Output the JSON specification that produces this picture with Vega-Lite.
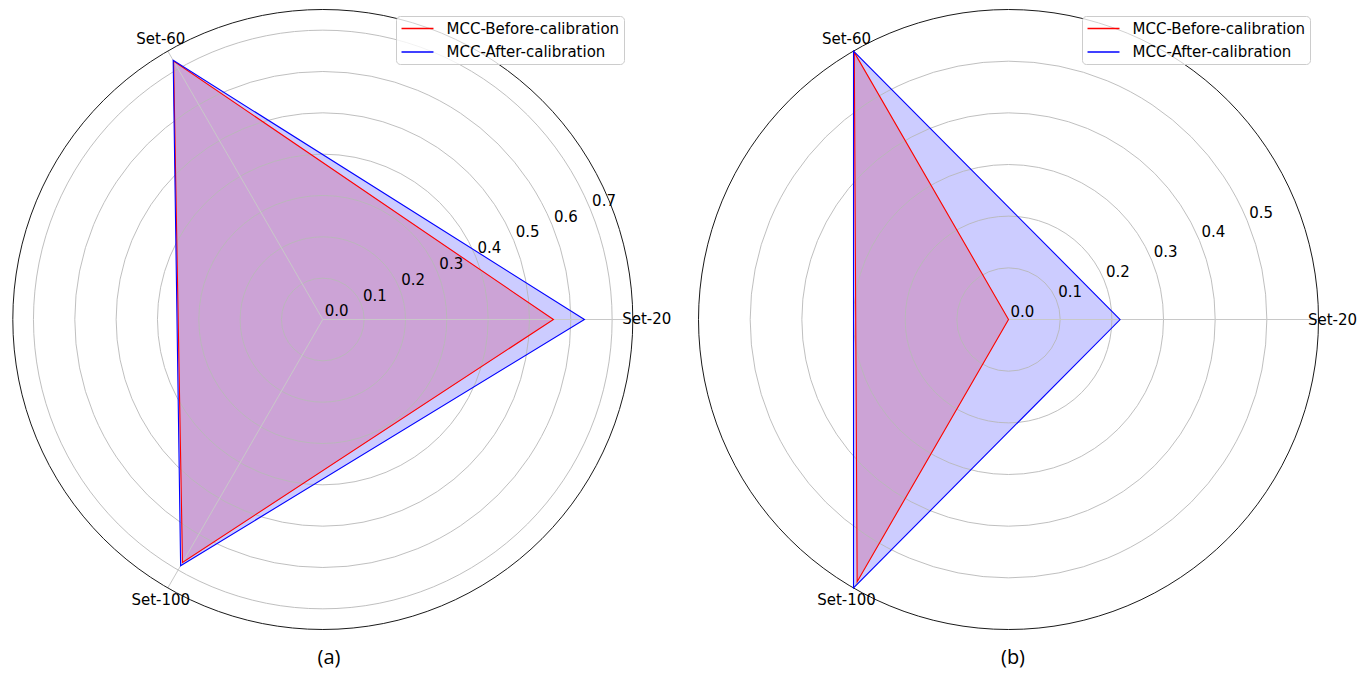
{
  "$schema": "https://vega.github.io/schema/vega-lite/v6.json",
  "padding": {"left": 0, "top": 0, "right": 0, "bottom": 8},
  "spacing": 0,
  "background": "white",
  "config": {
    "view": {"stroke": null},
    "font": "DejaVu Sans",
    "title": {"font": "Open Sans", "fontSize": 20, "fontWeight": "normal", "color": "black"},
    "legend": {
      "orient": "none",
      "title": null,
      "symbolType": "M-2.13,0H2.13",
      "symbolSize": 225,
      "symbolStrokeWidth": 1.3,
      "symbolOffset": 9,
      "labelFont": "DejaVu Sans",
      "labelFontSize": 15,
      "labelColor": "black",
      "labelLimit": 400,
      "labelOffset": 20.5,
      "padding": 4,
      "rowPadding": 6.5,
      "strokeColor": "#cccccc",
      "fillColor": "rgba(255,255,255,0.8)",
      "cornerRadius": 4
    }
  },
  "datasets": {
    "radar": [
      {"panel": "a", "series": "MCC-Before-calibration", "axis": "Set-20", "k": 0, "value": 0.558},
      {"panel": "a", "series": "MCC-Before-calibration", "axis": "Set-60", "k": 1, "value": 0.722},
      {"panel": "a", "series": "MCC-Before-calibration", "axis": "Set-100", "k": 2, "value": 0.679},
      {"panel": "a", "series": "MCC-After-calibration", "axis": "Set-20", "k": 0, "value": 0.633},
      {"panel": "a", "series": "MCC-After-calibration", "axis": "Set-60", "k": 1, "value": 0.724},
      {"panel": "a", "series": "MCC-After-calibration", "axis": "Set-100", "k": 2, "value": 0.688},
      {"panel": "b", "series": "MCC-Before-calibration", "axis": "Set-20", "k": 0, "value": 0.0},
      {"panel": "b", "series": "MCC-Before-calibration", "axis": "Set-60", "k": 1, "value": 0.597},
      {"panel": "b", "series": "MCC-Before-calibration", "axis": "Set-100", "k": 2, "value": 0.586},
      {"panel": "b", "series": "MCC-After-calibration", "axis": "Set-20", "k": 0, "value": 0.216},
      {"panel": "b", "series": "MCC-After-calibration", "axis": "Set-60", "k": 1, "value": 0.6},
      {"panel": "b", "series": "MCC-After-calibration", "axis": "Set-100", "k": 2, "value": 0.6}
    ],
    "rings": [
      {"panel": "a", "r": 0.0, "label": "0.0"},
      {"panel": "a", "r": 0.1, "label": "0.1"},
      {"panel": "a", "r": 0.2, "label": "0.2"},
      {"panel": "a", "r": 0.3, "label": "0.3"},
      {"panel": "a", "r": 0.4, "label": "0.4"},
      {"panel": "a", "r": 0.5, "label": "0.5"},
      {"panel": "a", "r": 0.6, "label": "0.6"},
      {"panel": "a", "r": 0.7, "label": "0.7"},
      {"panel": "b", "r": 0.0, "label": "0.0"},
      {"panel": "b", "r": 0.1, "label": "0.1"},
      {"panel": "b", "r": 0.2, "label": "0.2"},
      {"panel": "b", "r": 0.3, "label": "0.3"},
      {"panel": "b", "r": 0.4, "label": "0.4"},
      {"panel": "b", "r": 0.5, "label": "0.5"}
    ],
    "axes": [
      {"panel": "a", "axis": "Set-20", "k": 0, "rmax": 0.75},
      {"panel": "a", "axis": "Set-60", "k": 1, "rmax": 0.75},
      {"panel": "a", "axis": "Set-100", "k": 2, "rmax": 0.75},
      {"panel": "b", "axis": "Set-20", "k": 0, "rmax": 0.6},
      {"panel": "b", "axis": "Set-60", "k": 1, "rmax": 0.6},
      {"panel": "b", "axis": "Set-100", "k": 2, "rmax": 0.6}
    ]
  },
  "resolve": {
    "legend": {"stroke": "independent"},
    "scale": {"stroke": "independent", "size": "independent"}
  },
  "hconcat": [
    {
      "width": 684,
      "height": 632,
      "title": {"text": "(a)", "orient": "bottom", "anchor": "middle", "dx": -13, "offset": 16},
      "layer": [
        {
          "data": {"name": "radar"},
          "transform": [
            {"filter": "datum.panel == 'a' && datum.series == 'MCC-Before-calibration'"},
            {"calculate": "datum.k * 2 * PI / 3", "as": "theta"},
            {"calculate": "datum.value * cos(datum.theta)", "as": "px"},
            {"calculate": "datum.value * sin(datum.theta)", "as": "py"}
          ],
          "mark": {"type": "line", "interpolate": "linear-closed", "fill": "#ff0000", "fillOpacity": 0.2, "strokeWidth": 0, "strokeOpacity": 0},
          "encoding": {
            "x": {"field": "px", "type": "quantitative", "scale": {"domain": [-0.781, 0.8739], "nice": false, "zero": false}, "axis": null},
            "y": {"field": "py", "type": "quantitative", "scale": {"domain": [-0.7561, 0.773], "nice": false, "zero": false}, "axis": null},
            "order": {"field": "k", "type": "quantitative"}
          }
        },
        {
          "data": {"name": "radar"},
          "transform": [
            {"filter": "datum.panel == 'a' && datum.series == 'MCC-After-calibration'"},
            {"calculate": "datum.k * 2 * PI / 3", "as": "theta"},
            {"calculate": "datum.value * cos(datum.theta)", "as": "px"},
            {"calculate": "datum.value * sin(datum.theta)", "as": "py"}
          ],
          "mark": {"type": "line", "interpolate": "linear-closed", "fill": "#0000ff", "fillOpacity": 0.2, "strokeWidth": 0, "strokeOpacity": 0},
          "encoding": {
            "x": {"field": "px", "type": "quantitative"},
            "y": {"field": "py", "type": "quantitative"},
            "order": {"field": "k", "type": "quantitative"}
          }
        },
        {
          "data": {"name": "rings"},
          "transform": [{"filter": "datum.panel == 'a' && datum.r > 0"}],
          "mark": {"type": "point", "shape": "circle", "filled": false, "stroke": "#b8b8b8", "strokeWidth": 0.9, "opacity": 1},
          "encoding": {
            "x": {"datum": 0, "type": "quantitative"},
            "y": {"datum": 0, "type": "quantitative"},
            "size": {"field": "r", "type": "quantitative", "scale": {"type": "pow", "exponent": 2, "domain": [0, 0.75], "range": [0, 384400], "nice": false, "zero": true}, "legend": null}
          }
        },
        {
          "data": {"name": "axes"},
          "transform": [
            {"filter": "datum.panel == 'a'"},
            {"calculate": "datum.k * 2 * PI / 3", "as": "theta"},
            {"calculate": "datum.rmax * cos(datum.theta)", "as": "ex"},
            {"calculate": "datum.rmax * sin(datum.theta)", "as": "ey"}
          ],
          "mark": {"type": "rule", "stroke": "#c8c8c8", "strokeWidth": 1},
          "encoding": {
            "x": {"field": "ex", "type": "quantitative"},
            "y": {"field": "ey", "type": "quantitative"},
            "x2": {"datum": 0},
            "y2": {"datum": 0}
          }
        },
        {
          "data": {"values": [{"edge": "outer", "r": 0.75}]},
          "mark": {"type": "point", "shape": "circle", "filled": false, "stroke": "#1a1a1a", "strokeWidth": 1, "opacity": 1},
          "encoding": {
            "x": {"datum": 0, "type": "quantitative"},
            "y": {"datum": 0, "type": "quantitative"},
            "size": {"field": "r", "type": "quantitative", "legend": null}
          }
        },
        {
          "data": {"name": "radar"},
          "transform": [
            {"filter": "datum.panel == 'a' && datum.series == 'MCC-Before-calibration'"},
            {"calculate": "datum.k * 2 * PI / 3", "as": "theta"},
            {"calculate": "datum.value * cos(datum.theta)", "as": "px"},
            {"calculate": "datum.value * sin(datum.theta)", "as": "py"}
          ],
          "mark": {"type": "line", "interpolate": "linear-closed", "strokeWidth": 1.1},
          "encoding": {
            "x": {"field": "px", "type": "quantitative"},
            "y": {"field": "py", "type": "quantitative"},
            "order": {"field": "k", "type": "quantitative"},
            "stroke": {"field": "series", "type": "nominal", "scale": {"domain": ["MCC-Before-calibration", "MCC-After-calibration"], "range": ["#ff0000", "#0000ff"]}, "legend": {"legendX": 396, "legendY": 16}}
          }
        },
        {
          "data": {"name": "radar"},
          "transform": [
            {"filter": "datum.panel == 'a' && datum.series == 'MCC-After-calibration'"},
            {"calculate": "datum.k * 2 * PI / 3", "as": "theta"},
            {"calculate": "datum.value * cos(datum.theta)", "as": "px"},
            {"calculate": "datum.value * sin(datum.theta)", "as": "py"}
          ],
          "mark": {"type": "line", "interpolate": "linear-closed", "strokeWidth": 1.1},
          "encoding": {
            "x": {"field": "px", "type": "quantitative"},
            "y": {"field": "py", "type": "quantitative"},
            "order": {"field": "k", "type": "quantitative"},
            "stroke": {"field": "series", "type": "nominal"}
          }
        },
        {
          "data": {"name": "rings"},
          "transform": [
            {"filter": "datum.panel == 'a'"},
            {"calculate": "datum.r * cos(PI / 8)", "as": "px"},
            {"calculate": "datum.r * sin(PI / 8)", "as": "py"}
          ],
          "mark": {"type": "text", "align": "left", "baseline": "alphabetic", "dx": 2, "dy": -3, "fontSize": 15, "color": "black"},
          "encoding": {
            "x": {"field": "px", "type": "quantitative"},
            "y": {"field": "py", "type": "quantitative"},
            "text": {"field": "label", "type": "nominal"}
          }
        },
        {
          "data": {"name": "axes"},
          "transform": [
            {"filter": "datum.panel == 'a'"},
            {"calculate": "datum.k * 2 * PI / 3", "as": "theta"},
            {"calculate": "1.045 * datum.rmax * cos(datum.theta)", "as": "px"},
            {"calculate": "1.045 * datum.rmax * sin(datum.theta)", "as": "py"}
          ],
          "mark": {"type": "text", "align": "center", "baseline": "middle", "fontSize": 15, "color": "black"},
          "encoding": {
            "x": {"field": "px", "type": "quantitative"},
            "y": {"field": "py", "type": "quantitative"},
            "text": {"field": "axis", "type": "nominal"}
          }
        }
      ]
    },
    {
      "width": 684,
      "height": 632,
      "title": {"text": "(b)", "orient": "bottom", "anchor": "middle", "dx": -13, "offset": 16},
      "layer": [
        {
          "data": {"name": "radar"},
          "transform": [
            {"filter": "datum.panel == 'b' && datum.series == 'MCC-Before-calibration'"},
            {"calculate": "datum.k * 2 * PI / 3", "as": "theta"},
            {"calculate": "datum.value * cos(datum.theta)", "as": "px"},
            {"calculate": "datum.value * sin(datum.theta)", "as": "py"}
          ],
          "mark": {"type": "line", "interpolate": "linear-closed", "fill": "#ff0000", "fillOpacity": 0.2, "strokeWidth": 0, "strokeOpacity": 0},
          "encoding": {
            "x": {"field": "px", "type": "quantitative", "scale": {"domain": [-0.6281, 0.6958], "nice": false, "zero": false}, "axis": null},
            "y": {"field": "py", "type": "quantitative", "scale": {"domain": [-0.6048, 0.6184], "nice": false, "zero": false}, "axis": null},
            "order": {"field": "k", "type": "quantitative"}
          }
        },
        {
          "data": {"name": "radar"},
          "transform": [
            {"filter": "datum.panel == 'b' && datum.series == 'MCC-After-calibration'"},
            {"calculate": "datum.k * 2 * PI / 3", "as": "theta"},
            {"calculate": "datum.value * cos(datum.theta)", "as": "px"},
            {"calculate": "datum.value * sin(datum.theta)", "as": "py"}
          ],
          "mark": {"type": "line", "interpolate": "linear-closed", "fill": "#0000ff", "fillOpacity": 0.2, "strokeWidth": 0, "strokeOpacity": 0},
          "encoding": {
            "x": {"field": "px", "type": "quantitative"},
            "y": {"field": "py", "type": "quantitative"},
            "order": {"field": "k", "type": "quantitative"}
          }
        },
        {
          "data": {"name": "rings"},
          "transform": [{"filter": "datum.panel == 'b' && datum.r > 0"}],
          "mark": {"type": "point", "shape": "circle", "filled": false, "stroke": "#b8b8b8", "strokeWidth": 0.9, "opacity": 1},
          "encoding": {
            "x": {"datum": 0, "type": "quantitative"},
            "y": {"datum": 0, "type": "quantitative"},
            "size": {"field": "r", "type": "quantitative", "scale": {"type": "pow", "exponent": 2, "domain": [0, 0.6], "range": [0, 384400], "nice": false, "zero": true}, "legend": null}
          }
        },
        {
          "data": {"name": "axes"},
          "transform": [
            {"filter": "datum.panel == 'b'"},
            {"calculate": "datum.k * 2 * PI / 3", "as": "theta"},
            {"calculate": "datum.rmax * cos(datum.theta)", "as": "ex"},
            {"calculate": "datum.rmax * sin(datum.theta)", "as": "ey"}
          ],
          "mark": {"type": "rule", "stroke": "#c8c8c8", "strokeWidth": 1},
          "encoding": {
            "x": {"field": "ex", "type": "quantitative"},
            "y": {"field": "ey", "type": "quantitative"},
            "x2": {"datum": 0},
            "y2": {"datum": 0}
          }
        },
        {
          "data": {"values": [{"edge": "outer", "r": 0.6}]},
          "mark": {"type": "point", "shape": "circle", "filled": false, "stroke": "#1a1a1a", "strokeWidth": 1, "opacity": 1},
          "encoding": {
            "x": {"datum": 0, "type": "quantitative"},
            "y": {"datum": 0, "type": "quantitative"},
            "size": {"field": "r", "type": "quantitative", "legend": null}
          }
        },
        {
          "data": {"name": "radar"},
          "transform": [
            {"filter": "datum.panel == 'b' && datum.series == 'MCC-Before-calibration'"},
            {"calculate": "datum.k * 2 * PI / 3", "as": "theta"},
            {"calculate": "datum.value * cos(datum.theta)", "as": "px"},
            {"calculate": "datum.value * sin(datum.theta)", "as": "py"}
          ],
          "mark": {"type": "line", "interpolate": "linear-closed", "strokeWidth": 1.1},
          "encoding": {
            "x": {"field": "px", "type": "quantitative"},
            "y": {"field": "py", "type": "quantitative"},
            "order": {"field": "k", "type": "quantitative"},
            "stroke": {"field": "series", "type": "nominal", "scale": {"domain": ["MCC-Before-calibration", "MCC-After-calibration"], "range": ["#ff0000", "#0000ff"]}, "legend": {"legendX": 398, "legendY": 16}}
          }
        },
        {
          "data": {"name": "radar"},
          "transform": [
            {"filter": "datum.panel == 'b' && datum.series == 'MCC-After-calibration'"},
            {"calculate": "datum.k * 2 * PI / 3", "as": "theta"},
            {"calculate": "datum.value * cos(datum.theta)", "as": "px"},
            {"calculate": "datum.value * sin(datum.theta)", "as": "py"}
          ],
          "mark": {"type": "line", "interpolate": "linear-closed", "strokeWidth": 1.1},
          "encoding": {
            "x": {"field": "px", "type": "quantitative"},
            "y": {"field": "py", "type": "quantitative"},
            "order": {"field": "k", "type": "quantitative"},
            "stroke": {"field": "series", "type": "nominal"}
          }
        },
        {
          "data": {"name": "rings"},
          "transform": [
            {"filter": "datum.panel == 'b'"},
            {"calculate": "datum.r * cos(PI / 8)", "as": "px"},
            {"calculate": "datum.r * sin(PI / 8)", "as": "py"}
          ],
          "mark": {"type": "text", "align": "left", "baseline": "alphabetic", "dx": 2, "dy": -3, "fontSize": 15, "color": "black"},
          "encoding": {
            "x": {"field": "px", "type": "quantitative"},
            "y": {"field": "py", "type": "quantitative"},
            "text": {"field": "label", "type": "nominal"}
          }
        },
        {
          "data": {"name": "axes"},
          "transform": [
            {"filter": "datum.panel == 'b'"},
            {"calculate": "datum.k * 2 * PI / 3", "as": "theta"},
            {"calculate": "1.045 * datum.rmax * cos(datum.theta)", "as": "px"},
            {"calculate": "1.045 * datum.rmax * sin(datum.theta)", "as": "py"}
          ],
          "mark": {"type": "text", "align": "center", "baseline": "middle", "fontSize": 15, "color": "black"},
          "encoding": {
            "x": {"field": "px", "type": "quantitative"},
            "y": {"field": "py", "type": "quantitative"},
            "text": {"field": "axis", "type": "nominal"}
          }
        }
      ]
    }
  ]
}
